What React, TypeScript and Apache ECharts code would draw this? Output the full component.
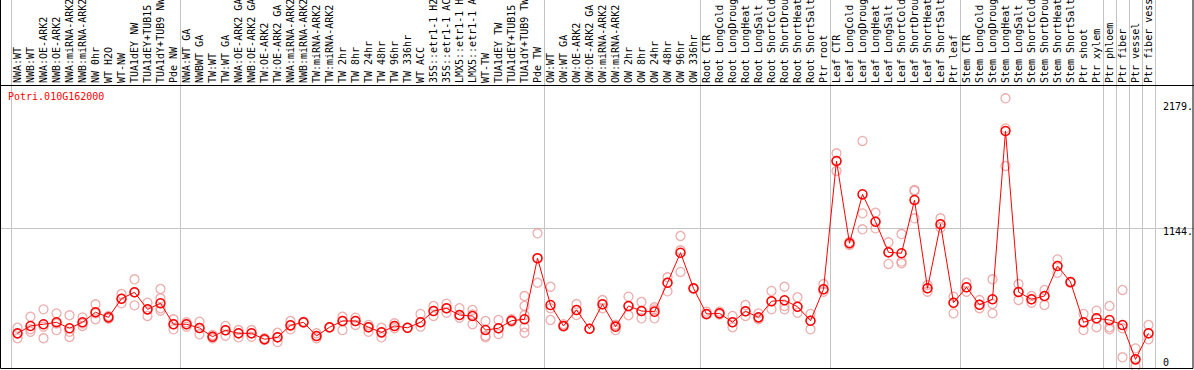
import React, { useEffect, useRef } from "react";
import * as echarts from "echarts";

const geneTitle = "Potri.010G162000";

const categories = [
  "NWA:WT", "NWB:WT", "NWA:OE-ARK2", "NWB:OE-ARK2", "NWA:miRNA-ARK2", "NWB:miRNA-ARK2",
  "NW 0hr", "WT H2O", "WT-NW", "TUA1dEY NW", "TUA1dEY+TUB15", "TUA1dY+TUB9 NW", "Pde NW",
  "NWA:WT GA", "NWBWT GA", "TW:WT", "TW:WT GA", "NWA:OE-ARK2 GA", "NWB:OE-ARK2 GA",
  "TW:OE-ARK2", "TW:OE-ARK2 GA", "NWA:miRNA-ARK2", "NWB:miRNA-ARK2", "TW:miRNA-ARK2",
  "TW:miRNA-ARK2", "TW 2hr", "TW 8hr", "TW 24hr", "TW 48hr", "TW 96hr", "TW 336hr",
  "WT ACC", "35S::etr1-1 H2O", "35S::etr1-1 ACC", "LMX5::etr1-1 H2O", "LMX5::etr1-1 ACC",
  "WT-TW", "TUA1dEY TW", "TUA1dEY+TUB15", "TUA1dY+TUB9 TW", "Pde TW",
  "OW:WT", "OW:WT GA", "OW:OE-ARK2", "OW:OE-ARK2 GA", "OW:miRNA-ARK2", "OW:miRNA-ARK2",
  "OW 2hr", "OW 8hr", "OW 24hr", "OW 48hr", "OW 96hr", "OW 336hr",
  "Root CTR", "Root LongCold", "Root LongDrought", "Root LongHeat", "Root LongSalt",
  "Root ShortCold", "Root ShortDrought", "Root ShortHeat", "Root ShortSalt", "Ptr root",
  "Leaf CTR", "Leaf LongCold", "Leaf LongDrought", "Leaf LongHeat", "Leaf LongSalt",
  "Leaf ShortCold", "Leaf ShortDrought", "Leaf ShortHeat", "Leaf ShortSalt", "Ptr leaf",
  "Stem CTR", "Stem LongCold", "Stem LongDrought", "Stem LongHeat", "Stem LongSalt",
  "Stem ShortCold", "Stem ShortDrought", "Stem ShortHeat", "Stem ShortSalt", "Ptr shoot",
  "Ptr xylem", "Ptr phloem", "Ptr fiber", "Ptr vessel", "Ptr fiber vessel",
];

const means = [
  274, 335, 349, 365, 316, 365, 448, 406, 560, 613, 472, 522, 349,
  349, 318, 246, 299, 274, 274, 225, 241, 340, 365, 252, 324, 376, 376, 324, 282, 335, 320,
  365, 458, 481, 425, 417, 301, 316, 378, 390, 894,
  508, 335, 467, 312, 514, 329, 500, 458, 453, 692, 940, 646,
  434, 439, 365, 456, 406, 539, 547, 494, 378, 638,
  1697, 1018, 1422, 1196, 943, 935, 1375, 646, 1175, 527,
  654, 510, 555, 1945, 615, 555, 582, 830, 698, 365,
  398, 384, 343, 59, 274,
];

const replicates = [
  [320, 233, 270], [411, 287, 308], [472, 233, 329], [439, 301, 355], [423, 244, 287],
  [406, 335, 355], [514, 390, 440], [417, 395, 406], [599, 522, 560], [720, 505, 613],
  [527, 417, 472], [640, 563, 481, 461], [390, 307, 349],
  [365, 329, 349], [370, 266, 318], [260, 233, 246], [335, 254, 299], [301, 241, 274],
  [301, 246, 274], [233, 218, 225], [279, 202, 241], [376, 307, 340], [370, 360],
  [274, 233, 252], [324, 320], [411, 301, 376], [403, 343, 376], [343, 287, 324],
  [320, 241, 282], [357, 316, 335], [320, 318], [434, 329, 365], [500, 417, 458],
  [519, 444, 481], [481, 403, 425], [467, 349, 430], [376, 252, 241], [384, 268, 316],
  [390, 370, 378], [582, 500, 425, 324, 279], [1100, 692, 894],
  [659, 384, 481], [349, 330, 335], [516, 425, 467], [312, 310], [549, 481, 514],
  [301, 340, 345], [577, 423, 500], [533, 398, 458], [489, 472, 398], [737, 621, 692],
  [1078, 781, 960], [646, 640],
  [453, 430, 434], [453, 430, 439], [417, 324, 365], [508, 417, 456], [439, 390, 406],
  [624, 472, 539], [659, 472, 500], [572, 444, 494], [434, 307, 378], [681, 618, 638],
  [1761, 1615, 1697], [1004, 1030, 1018], [1863, 1265, 1133], [1270, 1141, 1196],
  [1026, 847, 943], [1094, 852, 866], [1458, 1450, 1224], [673, 618, 646],
  [1224, 1146, 1175], [577, 439, 527],
  [692, 618, 654], [549, 481, 510], [720, 516, 439], [2215, 1967, 1656], [681, 549, 615],
  [582, 527, 555], [632, 508, 582], [885, 775, 830], [698, 690], [434, 301, 365],
  [461, 324, 398], [500, 324, 307], [632, 316, 76], [150, 0, 59], [343, 225, 274],
];

const yLabelValues = [0, 1144, 2179];
const gridLineValue = 1144;
const groupStarts = [0, 13, 41, 53, 63, 73, 84, 85, 86, 87];

const MONO = "'DejaVu Sans Mono', monospace";
const GRAY = "#c4c4c4";

export default function App() {
  const ref = useRef<HTMLDivElement>(null);

  useEffect(() => {
    const chart = echarts.init(ref.current!, null, { renderer: "svg" });
    const scatterData: number[][] = [];
    replicates.forEach((reps, i) => reps.forEach((v) => scatterData.push([i, v])));

    chart.setOption({
      animation: false,
      backgroundColor: "#fff",
      title: {
        text: geneTitle,
        left: 8,
        top: 91,
        padding: 0,
        textStyle: { color: "#ff0000", fontSize: 10, fontFamily: MONO, fontWeight: "normal" },
      },
      grid: [
        { left: 11, right: 39, top: 85, bottom: 3.5, outerBoundsMode: "none", containLabel: false },
        { left: 11, right: 39, top: 0, bottom: 1, outerBoundsMode: "none", containLabel: false },
        { left: 0, right: 0, top: 89.5, bottom: 3.5, outerBoundsMode: "none", containLabel: false },
      ],
      xAxis: [
        {
          gridIndex: 0,
          type: "category",
          data: categories,
          position: "top",
          boundaryGap: true,
          axisLine: { show: false },
          axisTick: { show: false },
          splitLine: { show: false },
          axisLabel: {
            interval: 0,
            rotate: 90,
            margin: 2,
            fontSize: 10,
            fontFamily: MONO,
            color: "#000",
          },
        },
        {
          gridIndex: 1,
          type: "category",
          data: categories,
          boundaryGap: true,
          axisLine: { show: false },
          axisTick: { show: false },
          axisLabel: { show: false },
          splitLine: {
            show: true,
            interval: (i: number) => groupStarts.includes(i),
            lineStyle: { color: GRAY, width: 1 },
          },
        },
        { gridIndex: 2, type: "value", show: false },
      ],
      yAxis: [
        {
          gridIndex: 0,
          type: "value",
          min: 0,
          max: 2325,
          position: "right",
          axisLine: { show: false },
          axisTick: { show: false },
          splitLine: { show: false },
          axisLabel: {
            customValues: yLabelValues,
            margin: 8,
            formatter: (v: number) => (v === 0 ? "{lo|0}" : `{hi|${v}.}`),
            rich: {
              lo: { fontSize: 10, fontFamily: MONO, color: "#000", padding: [0, 0, 9, 0] },
              hi: { fontSize: 10, fontFamily: MONO, color: "#000", padding: [8, 0, 0, 0] },
            },
          },
        },
        { gridIndex: 1, type: "value", show: false },
        {
          gridIndex: 2,
          type: "value",
          min: 0,
          max: gridLineValue * 2,
          interval: gridLineValue,
          axisLine: { show: false },
          axisTick: { show: false },
          axisLabel: { show: false },
          splitLine: {
            show: true,
            showMinLine: false,
            showMaxLine: false,
            lineStyle: { color: GRAY, width: 1 },
          },
        },
      ],
      series: [
        {
          type: "scatter",
          xAxisIndex: 0,
          yAxisIndex: 0,
          data: scatterData,
          symbol: "circle",
          symbolSize: 9,
          itemStyle: { color: "rgba(0,0,0,0)", borderColor: "#e89a9a", borderWidth: 1.3 },
          z: 2,
        },
        {
          type: "line",
          xAxisIndex: 0,
          yAxisIndex: 0,
          data: means,
          symbol: "circle",
          symbolSize: 9,
          showAllSymbol: true,
          lineStyle: { color: "#ff0000", width: 1 },
          itemStyle: { color: "rgba(0,0,0,0)", borderColor: "#ff0000", borderWidth: 1.5 },
          z: 3,
        },
      ],
      graphic: [
        {
          type: "rect",
          silent: true,
          shape: { x: 0.5, y: -2, width: 1192.5, height: 370.5 },
          style: { fill: "none", stroke: "#000", lineWidth: 1 },
          z: 10,
        },
        {
          type: "line",
          silent: true,
          shape: { x1: 0, y1: 85.5, x2: 1194, y2: 85.5 },
          style: { stroke: "#000", lineWidth: 1 },
          z: 10,
        },
      ],
    });

    return () => chart.dispose();
  }, []);

  return (
    <div
      ref={ref}
      style={{ position: "absolute", left: 0, top: 0, width: 1194, height: 370 }}
    />
  );
}
